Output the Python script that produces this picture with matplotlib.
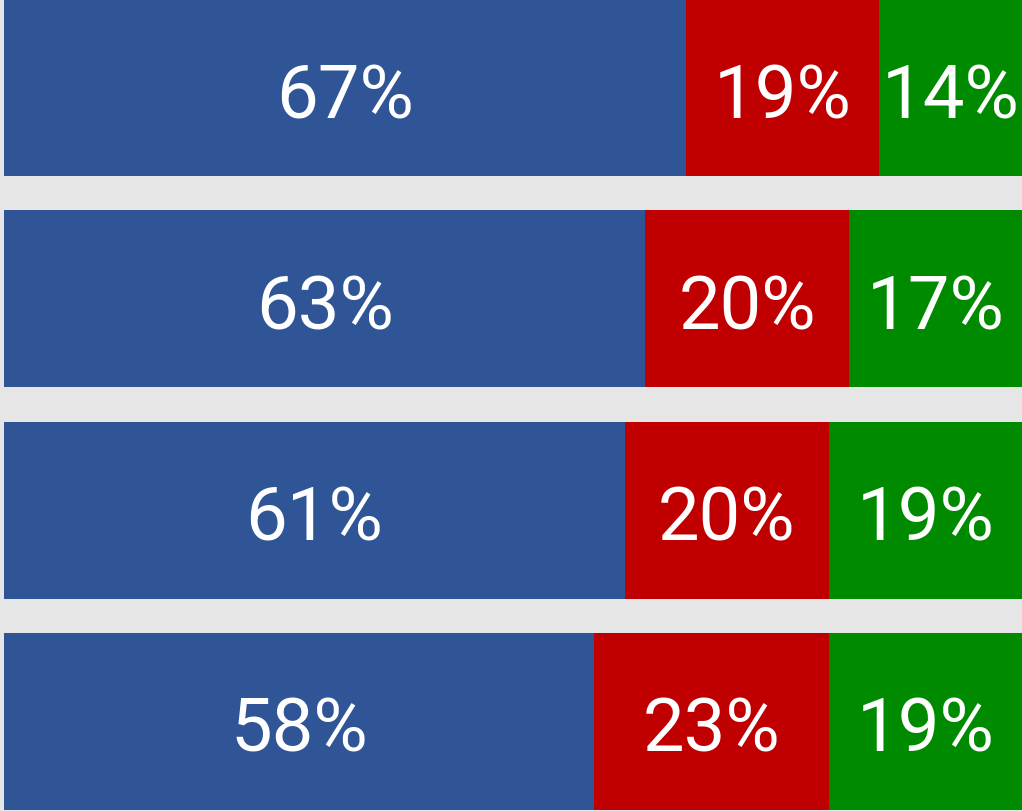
import matplotlib
matplotlib.use("Agg")
from matplotlib import pyplot as plt

# share of each segment per row (top to bottom)
blue_vals = [67, 63, 61, 58]
red_vals = [19, 20, 20, 23]
green_vals = [14, 17, 19, 19]
colors = ["#2F5597", "#C00000", "#008A00"]

plt.rcParams["font.family"] = ["Roboto", "DejaVu Sans"]

fig = plt.figure(figsize=(10.22, 8.12), dpi=100, facecolor="#E6E6E6")
ax = fig.add_axes([4 / 1022, 1 / 812, 1018 / 1022, 811 / 812])
ax.set_facecolor("#E6E6E6")

h = 177 / 211
rows = list(range(len(blue_vals)))
left = [0] * len(rows)
for vals, col in zip([blue_vals, red_vals, green_vals], colors):
    ax.barh(rows, vals, left=left, height=h, color=col, edgecolor="none")
    for r, v, l in zip(rows, vals, left):
        # baseline sits a bit below the bar centre
        ax.text(l + v / 2, r + 0.14, f"{v}%", ha="center", va="baseline",
                color="white", fontsize=53.5)
    left = [a + b for a, b in zip(left, vals)]

ax.set_xlim(0, 100)
ax.set_ylim(3 + h / 2, -h / 2)
ax.axis("off")

fig.savefig("out.png", dpi=100, facecolor=fig.get_facecolor())
